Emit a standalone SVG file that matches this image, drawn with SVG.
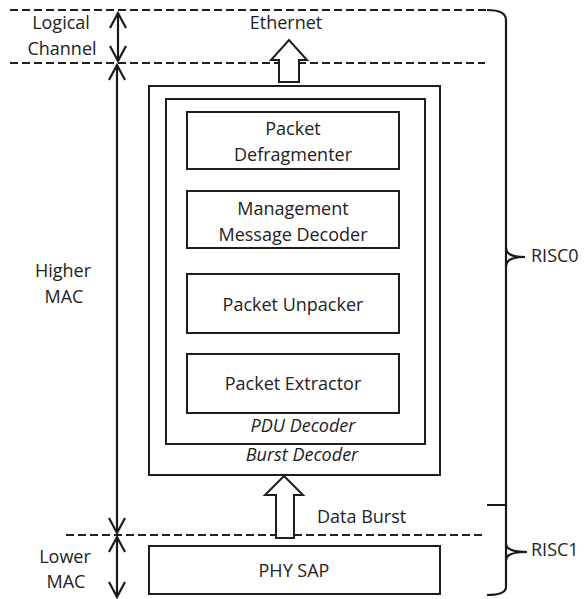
<svg xmlns="http://www.w3.org/2000/svg" width="585" height="599" viewBox="0 0 585 599">
  <defs>
    <marker id="vhead" markerUnits="userSpaceOnUse" markerWidth="20" markerHeight="20" refX="16" refY="9" orient="auto-start-reverse">
      <path d="M1,1 L16,9 L1,17" fill="none" stroke="#1a1a1a" stroke-width="2.2"/>
    </marker>
  </defs>
  <style>
    .box { fill: #fff; stroke: #1e1e1e; stroke-width: 2; }
    .frame { fill: none; stroke: #1e1e1e; stroke-width: 2; }
    .dash { stroke: #1e1e1e; stroke-width: 2; stroke-dasharray: 8 4; fill: none; }
    .line { stroke: #1a1a1a; stroke-width: 2.2; fill: none; }
    .block { fill: #fff; stroke: #1e1e1e; stroke-width: 2; stroke-linejoin: miter; }
    text { font-family: "Open Sans", "Liberation Sans", sans-serif; font-size: 18px; fill: #222; text-anchor: middle; }
    .it { font-style: italic; }
    .left { text-anchor: start; }
  </style>

  <!-- layer boundaries -->
  <g id="boundaries">
    <line class="dash" x1="10" y1="10" x2="487" y2="10"/>
    <line class="dash" x1="10" y1="63" x2="485" y2="63"/>
    <line class="dash" x1="66" y1="535" x2="485" y2="535"/>
  </g>

  <!-- layer labels -->
  <g id="layer-labels">
    <text x="61" y="29">Logical</text>
    <text x="62" y="55">Channel</text>
    <text x="63" y="277">Higher</text>
    <text x="64" y="303">MAC</text>
    <text x="65" y="563">Lower</text>
    <text x="66" y="588">MAC</text>
  </g>

  <g id="connectors">
    <!-- extent arrows -->
    <line class="line" x1="118" y1="13" x2="118" y2="61" marker-start="url(#vhead)" marker-end="url(#vhead)"/>
    <line class="line" x1="117" y1="65" x2="117" y2="533" marker-start="url(#vhead)" marker-end="url(#vhead)"/>
    <line class="line" x1="117" y1="537" x2="117" y2="597" marker-start="url(#vhead)" marker-end="url(#vhead)"/>
    <!-- data flow block arrows -->
    <polygon class="block" points="279,82 279,60 271,60 289,40 307,60 299,60 299,82"/>
    <polygon class="block" points="276,538 276,495 265,495 284,476 303,495 294,495 294,538"/>
    <!-- processor braces -->
    <path class="line" d="M487,10 Q506,10 506,20 L506,505 L487,505"/>
    <path class="line" d="M506,248 Q506,257 525,257 M506,266 Q506,257 525,257"/>
    <path class="line" d="M506,505 L506,587 Q506,595 487,595"/>
    <path class="line" d="M506,544 Q506,552 527,552 M506,560 Q506,552 527,552"/>
  </g>

  <g id="ethernet"><text x="286" y="29">Ethernet</text></g>
  <g id="data-burst"><text class="left" x="317" y="523">Data Burst</text></g>
  <g id="risc0"><text class="left" x="531" y="262">RISC0</text></g>
  <g id="risc1"><text class="left" x="531" y="556">RISC1</text></g>

  <g id="burst-decoder">
    <rect class="frame" x="149" y="86" width="291" height="389"/>
    <text class="it" x="302" y="461">Burst Decoder</text>
  </g>

  <g id="pdu-decoder">
    <rect class="frame" x="166" y="99" width="259" height="345"/>
    <text class="it" x="303" y="432">PDU Decoder</text>
  </g>

  <g id="packet-defragmenter">
    <rect class="box" x="187" y="112" width="212" height="57"/>
    <text x="293" y="135">Packet</text>
    <text x="293" y="161">Defragmenter</text>
  </g>

  <g id="management-message-decoder">
    <rect class="box" x="187" y="191" width="212" height="57"/>
    <text x="293" y="215">Management</text>
    <text x="293" y="241">Message Decoder</text>
  </g>

  <g id="packet-unpacker">
    <rect class="box" x="187" y="274" width="212" height="59"/>
    <text x="293" y="311">Packet Unpacker</text>
  </g>

  <g id="packet-extractor">
    <rect class="box" x="187" y="354" width="212" height="59"/>
    <text x="293" y="390">Packet Extractor</text>
  </g>

  <g id="phy-sap">
    <rect class="box" x="149" y="546" width="291" height="48"/>
    <text x="294" y="577">PHY SAP</text>
  </g>
</svg>
